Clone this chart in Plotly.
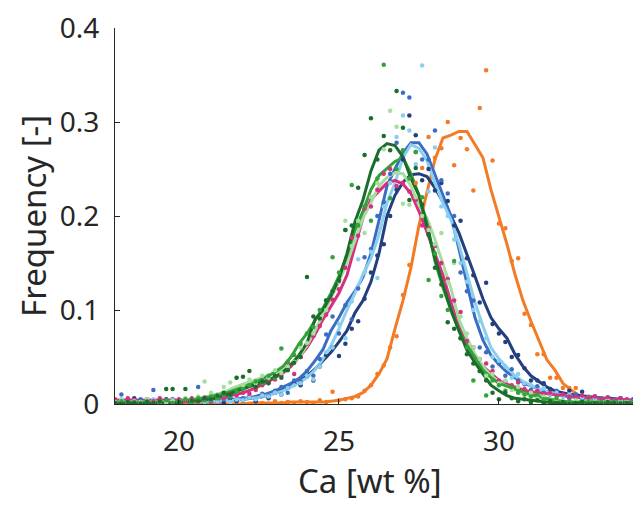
import numpy as np
import plotly.graph_objects as go

# smoothed curves, sampled every 0.25 wt% from 18 to 34.5
line_x = [round(18 + 0.25 * i, 2) for i in range(67)]
# raw histogram points, every 0.2 wt% from 18 to 34.4
dot_x = [round(18 + 0.2 * i, 1) for i in range(83)]

orange_line = [0.000, 0.000, 0.000, 0.000, 0.000, 0.000, 0.000, 0.000, 0.000, 0.000,
               0.000, 0.000, 0.000, 0.000, 0.000, 0.000, 0.000, 0.001, 0.001, 0.001,
               0.001, 0.001, 0.002, 0.002, 0.002, 0.002, 0.002, 0.003, 0.004, 0.006,
               0.008, 0.012, 0.020, 0.032, 0.048, 0.080, 0.110, 0.145, 0.190, 0.225,
               0.260, 0.283, 0.286, 0.290, 0.290, 0.276, 0.262, 0.228, 0.200, 0.170,
               0.138, 0.110, 0.088, 0.068, 0.047, 0.036, 0.022, 0.015, 0.009, 0.006,
               0.005, 0.004, 0.003, 0.002, 0.002, 0.001, 0.001]
navy_line = [0.003, 0.003, 0.003, 0.003, 0.003, 0.003, 0.003, 0.003, 0.003, 0.003,
             0.003, 0.003, 0.003, 0.003, 0.004, 0.004, 0.005, 0.006, 0.007, 0.009,
             0.012, 0.015, 0.019, 0.024, 0.030, 0.037, 0.046, 0.055, 0.066, 0.078,
             0.097, 0.110, 0.130, 0.160, 0.200, 0.222, 0.236, 0.244, 0.245, 0.242,
             0.230, 0.215, 0.200, 0.182, 0.160, 0.136, 0.112, 0.092, 0.080, 0.070,
             0.053, 0.040, 0.030, 0.024, 0.018, 0.014, 0.012, 0.010, 0.009, 0.008,
             0.007, 0.006, 0.006, 0.005, 0.004, 0.004, 0.004]
blue_line = [0.004, 0.004, 0.004, 0.004, 0.004, 0.004, 0.004, 0.004, 0.004, 0.004,
             0.004, 0.004, 0.004, 0.004, 0.005, 0.005, 0.006, 0.007, 0.009, 0.011,
             0.014, 0.018, 0.022, 0.027, 0.035, 0.046, 0.058, 0.078, 0.092, 0.108,
             0.120, 0.135, 0.160, 0.195, 0.232, 0.250, 0.267, 0.278, 0.278, 0.266,
             0.244, 0.222, 0.200, 0.165, 0.130, 0.092, 0.068, 0.052, 0.042, 0.034,
             0.028, 0.023, 0.019, 0.016, 0.013, 0.011, 0.009, 0.008, 0.007, 0.006,
             0.005, 0.004, 0.004, 0.004, 0.004, 0.004, 0.004]
sky_line = [0.003, 0.003, 0.003, 0.003, 0.003, 0.003, 0.003, 0.003, 0.003, 0.003,
            0.003, 0.003, 0.003, 0.003, 0.004, 0.004, 0.005, 0.006, 0.007, 0.009,
            0.011, 0.014, 0.018, 0.023, 0.028, 0.036, 0.048, 0.062, 0.080, 0.100,
            0.118, 0.138, 0.155, 0.180, 0.214, 0.235, 0.262, 0.276, 0.272, 0.259,
            0.235, 0.214, 0.196, 0.170, 0.140, 0.108, 0.083, 0.060, 0.048, 0.039,
            0.030, 0.024, 0.020, 0.016, 0.013, 0.011, 0.009, 0.008, 0.007, 0.006,
            0.005, 0.004, 0.004, 0.004, 0.004, 0.004, 0.004]
pink_line = [0.004, 0.004, 0.004, 0.004, 0.004, 0.004, 0.004, 0.004, 0.004, 0.004,
             0.004, 0.005, 0.006, 0.007, 0.008, 0.010, 0.012, 0.015, 0.019, 0.023,
             0.028, 0.033, 0.040, 0.050, 0.060, 0.074, 0.090, 0.104, 0.118, 0.137,
             0.168, 0.198, 0.218, 0.226, 0.235, 0.238, 0.234, 0.224, 0.205, 0.183,
             0.160, 0.137, 0.108, 0.082, 0.063, 0.050, 0.040, 0.032, 0.025, 0.021,
             0.018, 0.015, 0.013, 0.012, 0.011, 0.010, 0.009, 0.008, 0.007, 0.007,
             0.006, 0.006, 0.005, 0.005, 0.004, 0.004, 0.004]
lightgreen_line = [0.002, 0.002, 0.002, 0.002, 0.002, 0.002, 0.002, 0.002, 0.003, 0.004,
                   0.005, 0.007, 0.009, 0.011, 0.014, 0.018, 0.021, 0.024, 0.027, 0.030,
                   0.033, 0.037, 0.042, 0.050, 0.062, 0.078, 0.095, 0.112, 0.130, 0.150,
                   0.175, 0.198, 0.214, 0.232, 0.241, 0.246, 0.245, 0.232, 0.212, 0.198,
                   0.175, 0.150, 0.123, 0.090, 0.070, 0.053, 0.040, 0.030, 0.024, 0.019,
                   0.015, 0.011, 0.009, 0.007, 0.005, 0.004, 0.003, 0.002, 0.002, 0.002,
                   0.002, 0.002, 0.002, 0.002, 0.002, 0.002, 0.002]
green_line = [0.001, 0.001, 0.001, 0.001, 0.001, 0.001, 0.001, 0.002, 0.003, 0.004,
              0.005, 0.006, 0.008, 0.010, 0.012, 0.015, 0.018, 0.021, 0.025, 0.029,
              0.034, 0.040, 0.050, 0.064, 0.075, 0.088, 0.102, 0.118, 0.136, 0.158,
              0.185, 0.205, 0.228, 0.243, 0.250, 0.258, 0.262, 0.245, 0.222, 0.193,
              0.152, 0.124, 0.100, 0.078, 0.062, 0.050, 0.036, 0.028, 0.022, 0.019,
              0.016, 0.013, 0.010, 0.008, 0.006, 0.004, 0.003, 0.002, 0.002, 0.002,
              0.002, 0.002, 0.002, 0.002, 0.002, 0.002, 0.002]
darkgreen_line = [0.001, 0.001, 0.001, 0.001, 0.001, 0.001, 0.001, 0.001, 0.001, 0.002,
                  0.003, 0.004, 0.005, 0.007, 0.010, 0.013, 0.016, 0.019, 0.022, 0.025,
                  0.029, 0.034, 0.042, 0.052, 0.065, 0.090, 0.100, 0.115, 0.133, 0.160,
                  0.194, 0.217, 0.248, 0.270, 0.277, 0.275, 0.263, 0.240, 0.222, 0.190,
                  0.155, 0.127, 0.100, 0.078, 0.057, 0.044, 0.032, 0.020, 0.014, 0.009,
                  0.006, 0.005, 0.004, 0.003, 0.002, 0.001, 0.001, 0.001, 0.001, 0.001,
                  0.001, 0.001, 0.001, 0.001, 0.001, 0.001, 0.001]

orange_dots = [0.000, 0.001, 0.000, 0.000, 0.002, 0.000, 0.000, 0.001, 0.000, 0.000,
               0.000, 0.001, 0.000, 0.000, 0.001, 0.000, 0.002, 0.000, 0.001, 0.000,
               0.001, 0.000, 0.002, 0.001, 0.000, 0.003, 0.001, 0.002, 0.000, 0.003,
               0.002, 0.001, 0.004, 0.002, 0.013, 0.004, 0.005, 0.006, 0.008, 0.014,
               0.020, 0.032, 0.041, 0.060, 0.072, 0.116, 0.148, 0.235, 0.251, 0.284,
               0.262, 0.272, 0.300, 0.254, 0.283, 0.271, 0.227, 0.315, 0.355, 0.259,
               0.192, 0.187, 0.152, 0.155, 0.096, 0.084, 0.053, 0.053, 0.028, 0.028,
               0.017, 0.017, 0.017, 0.006, 0.008, 0.004, 0.002, 0.005, 0.001, 0.002,
               0.001, 0.000, 0.002]
navy_dots = [0.004, 0.001, 0.003, 0.006, 0.002, 0.004, 0.001, 0.003, 0.005, 0.002,
             0.003, 0.004, 0.001, 0.005, 0.002, 0.003, 0.004, 0.001, 0.006, 0.003,
             0.004, 0.007, 0.003, 0.009, 0.006, 0.012, 0.010, 0.017, 0.022, 0.020,
             0.030, 0.025, 0.040, 0.052, 0.060, 0.051, 0.064, 0.080, 0.088, 0.112,
             0.140, 0.158, 0.170, 0.200, 0.228, 0.260, 0.307, 0.286, 0.238, 0.250,
             0.227, 0.235, 0.216, 0.190, 0.195, 0.155, 0.137, 0.108, 0.129, 0.085,
             0.075, 0.066, 0.050, 0.052, 0.038, 0.025, 0.025, 0.022, 0.016, 0.012,
             0.010, 0.014, 0.009, 0.013, 0.006, 0.008, 0.005, 0.007, 0.004, 0.006,
             0.003, 0.005, 0.004]
blue_dots = [0.004, 0.010, 0.003, 0.002, 0.005, 0.003, 0.015, 0.004, 0.002, 0.005,
             0.003, 0.004, 0.002, 0.018, 0.004, 0.006, 0.003, 0.005, 0.007, 0.004,
             0.006, 0.008, 0.005, 0.011, 0.009, 0.014, 0.018, 0.012, 0.025, 0.024,
             0.035, 0.030, 0.048, 0.074, 0.093, 0.075, 0.105, 0.090, 0.123, 0.156,
             0.165, 0.200, 0.215, 0.245, 0.278, 0.331, 0.326, 0.268, 0.260, 0.260,
             0.291, 0.238, 0.224, 0.200, 0.140, 0.120, 0.110, 0.060, 0.055, 0.040,
             0.043, 0.030, 0.037, 0.025, 0.021, 0.015, 0.019, 0.012, 0.010, 0.014,
             0.008, 0.006, 0.010, 0.005, 0.007, 0.004, 0.006, 0.003, 0.005, 0.004,
             0.003, 0.005, 0.004]
sky_dots = [0.003, 0.005, 0.002, 0.004, 0.001, 0.003, 0.005, 0.002, 0.004, 0.003,
            0.002, 0.004, 0.003, 0.005, 0.002, 0.004, 0.003, 0.006, 0.002, 0.005,
            0.004, 0.007, 0.005, 0.009, 0.008, 0.012, 0.010, 0.017, 0.020, 0.022,
            0.030, 0.026, 0.040, 0.055, 0.060, 0.085, 0.070, 0.109, 0.154, 0.140,
            0.162, 0.134, 0.210, 0.235, 0.284, 0.307, 0.291, 0.255, 0.360, 0.226,
            0.273, 0.210, 0.200, 0.175, 0.150, 0.130, 0.100, 0.088, 0.070, 0.050,
            0.046, 0.040, 0.028, 0.032, 0.022, 0.020, 0.015, 0.017, 0.011, 0.012,
            0.008, 0.010, 0.006, 0.007, 0.005, 0.006, 0.004, 0.005, 0.003, 0.004,
            0.004, 0.003, 0.005]
pink_dots = [0.005, 0.003, 0.006, 0.004, 0.002, 0.005, 0.003, 0.006, 0.004, 0.003,
             0.005, 0.003, 0.006, 0.004, 0.007, 0.005, 0.008, 0.006, 0.010, 0.009,
             0.012, 0.011, 0.015, 0.020, 0.024, 0.026, 0.030, 0.043, 0.032, 0.050,
             0.064, 0.072, 0.083, 0.095, 0.111, 0.122, 0.145, 0.177, 0.179, 0.208,
             0.210, 0.228, 0.245, 0.250, 0.232, 0.235, 0.226, 0.217, 0.190, 0.187,
             0.168, 0.150, 0.133, 0.110, 0.098, 0.067, 0.060, 0.048, 0.043, 0.035,
             0.025, 0.024, 0.020, 0.023, 0.016, 0.013, 0.014, 0.011, 0.012, 0.009,
             0.010, 0.008, 0.007, 0.009, 0.006, 0.008, 0.005, 0.007, 0.004, 0.006,
             0.005, 0.003, 0.004]
lightgreen_dots = [0.002, 0.004, 0.001, 0.003, 0.002, 0.005, 0.001, 0.003, 0.002, 0.004,
                   0.003, 0.006, 0.004, 0.008, 0.024, 0.012, 0.010, 0.018, 0.023, 0.028,
                   0.020, 0.026, 0.022, 0.030, 0.028, 0.036, 0.033, 0.040, 0.045, 0.060,
                   0.065, 0.075, 0.090, 0.100, 0.120, 0.130, 0.195, 0.168, 0.195, 0.182,
                   0.220, 0.235, 0.271, 0.312, 0.295, 0.213, 0.212, 0.220, 0.200, 0.185,
                   0.170, 0.182, 0.130, 0.150, 0.093, 0.075, 0.060, 0.048, 0.030, 0.032,
                   0.022, 0.025, 0.015, 0.018, 0.010, 0.012, 0.006, 0.008, 0.004, 0.005,
                   0.003, 0.002, 0.004, 0.001, 0.003, 0.002, 0.001, 0.003, 0.002, 0.001,
                   0.002, 0.001, 0.002]
green_dots = [0.001, 0.003, 0.000, 0.002, 0.001, 0.003, 0.000, 0.002, 0.004, 0.001,
              0.003, 0.005, 0.002, 0.006, 0.004, 0.008, 0.006, 0.010, 0.008, 0.013,
              0.016, 0.020, 0.024, 0.022, 0.030, 0.028, 0.059, 0.045, 0.052, 0.064,
              0.075, 0.082, 0.100, 0.110, 0.156, 0.140, 0.185, 0.233, 0.190, 0.210,
              0.195, 0.240, 0.361, 0.219, 0.250, 0.270, 0.240, 0.268, 0.220, 0.132,
              0.160, 0.115, 0.100, 0.152, 0.070, 0.060, 0.025, 0.035, 0.009, 0.025,
              0.020, 0.014, 0.018, 0.012, 0.010, 0.008, 0.010, 0.005, 0.004, 0.006,
              0.002, 0.003, 0.001, 0.002, 0.003, 0.001, 0.002, 0.001, 0.002, 0.001,
              0.001, 0.002, 0.001]
darkgreen_dots = [0.001, 0.000, 0.002, 0.001, 0.000, 0.002, 0.001, 0.003, 0.016, 0.016,
                  0.002, 0.016, 0.004, 0.003, 0.006, 0.005, 0.009, 0.012, 0.010, 0.028,
                  0.029, 0.035, 0.018, 0.024, 0.022, 0.030, 0.028, 0.036, 0.044, 0.050,
                  0.135, 0.093, 0.091, 0.110, 0.120, 0.131, 0.185, 0.190, 0.230, 0.265,
                  0.304, 0.260, 0.285, 0.270, 0.333, 0.294, 0.217, 0.251, 0.212, 0.180,
                  0.145, 0.127, 0.087, 0.080, 0.070, 0.053, 0.043, 0.035, 0.025, 0.012,
                  0.005, 0.012, 0.006, 0.003, 0.005, 0.002, 0.004, 0.001, 0.003, 0.001,
                  0.002, 0.000, 0.001, 0.002, 0.000, 0.001, 0.000, 0.002, 0.001, 0.000,
                  0.001, 0.000, 0.001]

series = [
    ("orange", "#f47b25", orange_line, orange_dots),
    ("navy", "#233f7e", navy_line, navy_dots),
    ("blue", "#3b6dc5", blue_line, blue_dots),
    ("sky", "#8ad0ee", sky_line, sky_dots),
    ("pink", "#d6307f", pink_line, pink_dots),
    ("lightgreen", "#a5dea0", lightgreen_line, lightgreen_dots),
    ("green", "#31a339", green_line, green_dots),
    ("darkgreen", "#1c6d2c", darkgreen_line, darkgreen_dots),
]

fig = go.Figure()
for name, col, ln, dots in series:
    fig.add_trace(go.Scatter(x=line_x, y=ln, mode="lines", name=name,
                             line=dict(color=col, width=3), showlegend=False))
for name, col, ln, dots in series:
    fig.add_trace(go.Scatter(x=dot_x, y=dots, mode="markers", name=name,
                             marker=dict(color=col, size=4.5), showlegend=False))

axcol = "#262626"
# page body has an 8px margin, so the figure is sized 633x497 to fit the window
fig.update_xaxes(range=[18, 34.44], tickvals=[20, 25, 30], ticks="inside", ticklen=5,
                 tickcolor=axcol, showline=True, linecolor=axcol, linewidth=1,
                 showgrid=False, zeroline=False, tickfont=dict(size=28, color=axcol),
                 ticklabelstandoff=12)
fig.update_yaxes(range=[0, 0.4], tickvals=[0, 0.1, 0.2, 0.3, 0.4],
                 ticktext=["0", "0.1", "0.2", "0.3", "0.4"], ticks="inside", ticklen=5,
                 tickcolor=axcol, showline=True, linecolor=axcol, linewidth=1,
                 showgrid=False, zeroline=False, tickfont=dict(size=28, color=axcol),
                 ticklabelstandoff=9, ticklabeloverflow="allow")

fig.add_annotation(text="Frequency [-]", textangle=-90, xref="paper", yref="paper",
                   x=-0.156, y=0.5, xanchor="center", yanchor="middle",
                   showarrow=False, font=dict(size=33, color=axcol))
fig.add_annotation(text="Ca [wt %]", xref="paper", yref="paper",
                   x=0.485, y=-0.203, xanchor="center", yanchor="middle",
                   showarrow=False, font=dict(size=33, color=axcol))

fig.update_layout(width=633, height=497, margin=dict(l=107, r=0, t=14, b=101),
                  plot_bgcolor="white", paper_bgcolor="white",
                  font=dict(family="Noto Sans, Open Sans, sans-serif"))
fig.write_html("out.html")
